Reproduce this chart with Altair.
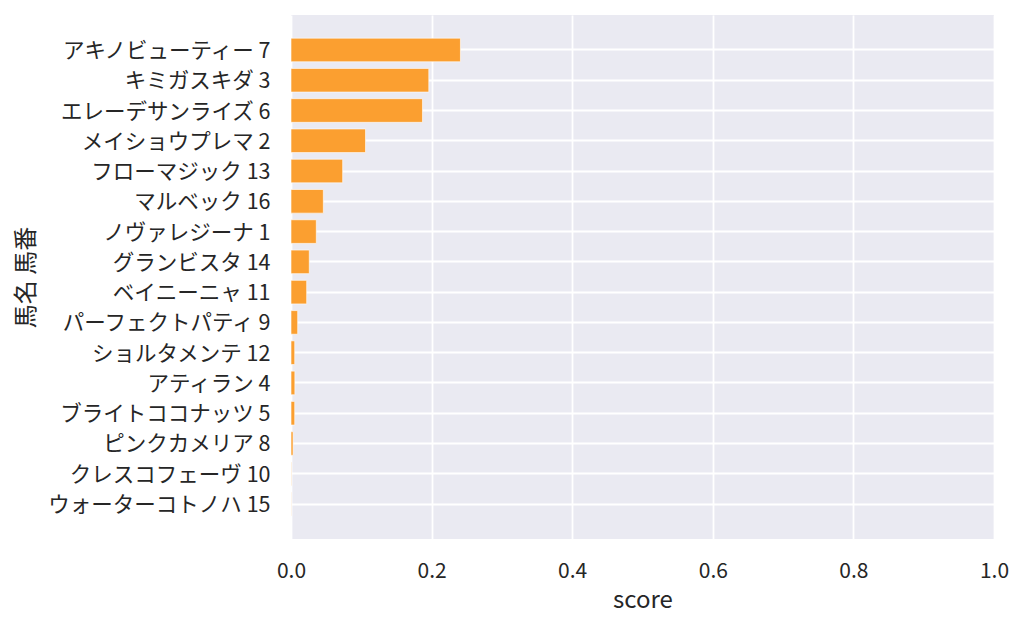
import altair as alt
import pandas as pd

horses = [
    "アキノビューティー 7", "キミガスキダ 3", "エレーデサンライズ 6", "メイショウプレマ 2",
    "フローマジック 13", "マルベック 16", "ノヴァレジーナ 1", "グランビスタ 14",
    "ベイニーニャ 11", "パーフェクトパティ 9", "ショルタメンテ 12", "アティラン 4",
    "ブライトココナッツ 5", "ピンクカメリア 8", "クレスコフェーヴ 10", "ウォーターコトノハ 15",
]
scores = [0.241, 0.196, 0.187, 0.106, 0.0735, 0.046, 0.036, 0.026,
          0.0223, 0.0095, 0.0053, 0.0055, 0.0053, 0.003, 0.0006, 0.0003]
x_ticks = [0.0, 0.2, 0.4, 0.6, 0.8, 1.0]

df = pd.DataFrame({"horse": horses, "score": scores})

FONT = "Noto Sans CJK JP"
TEXT = "#262626"

chart = alt.Chart(df).mark_bar(
    color="#FB9F30", stroke="white", strokeWidth=1, strokeOpacity=0.6
).encode(
    x=alt.X("score:Q",
            scale=alt.Scale(domain=[0, 1], nice=False, zero=True),
            axis=alt.Axis(values=x_ticks, format=".1f", title="score",
                          grid=True, gridColor="white", gridWidth=1.8,
                          domain=False, ticks=False, labelPadding=21, labelFlush=False,
                          labelFontSize=21, labelColor=TEXT, labelFont=FONT,
                          titleFontSize=24, titleColor=TEXT, titleFont=FONT,
                          titleFontWeight="normal", titleY=68, titleBaseline="alphabetic")),
    y=alt.Y("horse:N", sort=horses,
            scale=alt.Scale(paddingInner=0.22, paddingOuter=0.765),
            axis=alt.Axis(title="馬名 馬番", grid=True, gridColor="white", gridWidth=1.8,
                          bandPosition=0.5,
                          domain=False, ticks=False, labelPadding=21, labelOffset=2,
                          labelFontSize=21.5, labelColor=TEXT, labelFont=FONT, labelLimit=400,
                          titleFontSize=24, titleColor=TEXT, titleFont=FONT,
                          titleFontWeight="normal", titleX=-265, titleY=262,
                          titleAngle=270, titleAlign="center", titleBaseline="middle")),
).properties(
    width=703, height=524,
    autosize=alt.AutoSizeParams(type="none"),
    padding={"left": 283, "top": 7, "right": 20, "bottom": 85},
).configure(
    background="white"
).configure_view(
    fill="#EAEAF2", stroke=None
)

chart.save("out.html", embed_options={"renderer": "svg", "actions": False})
